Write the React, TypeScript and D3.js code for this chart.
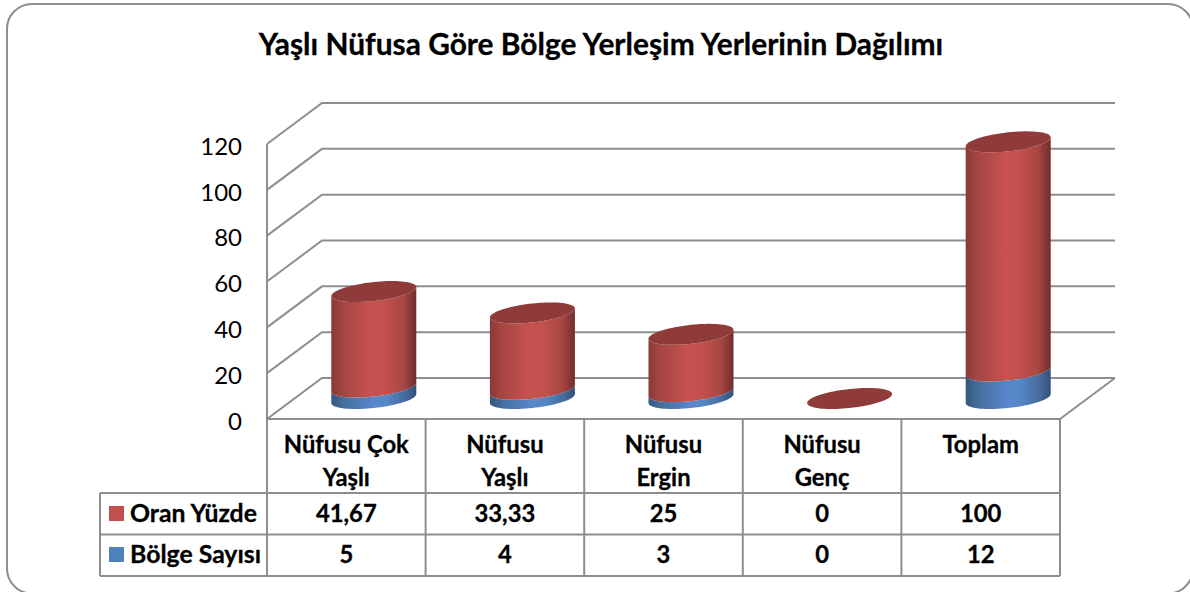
import React, { useEffect, useRef } from 'react';
import * as d3 from 'd3';

const chartTitle = 'Yaşlı Nüfusa Göre Bölge Yerleşim Yerlerinin Dağılımı';
const categories = [['Nüfusu Çok', 'Yaşlı'], ['Nüfusu', 'Yaşlı'], ['Nüfusu', 'Ergin'], ['Nüfusu', 'Genç'], ['Toplam']];
const oranYuzde = [41.67, 33.33, 25, 0, 100];
const bolgeSayisi = [5, 4, 3, 0, 12];
const yTicks = [0, 20, 40, 60, 80, 100, 120];
const seriesNames = ['Oran Yüzde', 'Bölge Sayısı'];

const width = 1190;
const height = 592;
const fontFamily = 'Lato, "Open Sans", sans-serif';
const gridColor = '#8e8e8e';
const depthX = 55;
const depthY = -41;
const radiusX = 42.5;
const radiusY = 9.5;
const tilt = -4.5;

// floor front edge runs 267..1060, the chart's back wall is the same thing shifted by the depth
const xBand = d3.scaleBand<number>().domain(d3.range(categories.length)).range([267, 1060]);
const yFront = d3.scaleLinear().domain([0, 120]).range([419, 144]);

const angles = d3.range(0, Math.PI * 2, Math.PI / 40);
const ellipsePoint = (cx: number, cy: number, t: number): [number, number] => [
  cx + radiusX * Math.cos(t),
  cy + radiusY * Math.sin(t) + tilt * Math.cos(t),
];

function App() {
  const svgRef = useRef<SVGSVGElement>(null);

  useEffect(() => {
    const svg = d3.select(svgRef.current);
    svg.selectAll('*').remove();

    const defs = svg.append('defs');
    const addGradient = (id: string, stops: [number, string][]) => {
      const g = defs.append('linearGradient').attr('id', id).attr('x1', 0).attr('x2', 1).attr('y1', 0).attr('y2', 0);
      stops.forEach(([o, c]) => g.append('stop').attr('offset', o).attr('stop-color', c));
    };
    addGradient('redBody', [[0, '#8a3937'], [0.12, '#a34441'], [0.45, '#c5524f'], [0.62, '#c4514e'], [0.85, '#a84643'], [1, '#6f2e2c']]);
    addGradient('blueBody', [[0, '#35567f'], [0.15, '#456f9f'], [0.5, '#5888cc'], [0.65, '#5587c6'], [0.88, '#44699a'], [1, '#31507a']]);

    // the frame runs a little past the right and bottom edge of the picture
    svg.append('rect')
      .attr('x', 7).attr('y', 4).attr('width', 1186).attr('height', 589.5).attr('rx', 25)
      .attr('fill', '#fff').attr('stroke', gridColor).attr('stroke-width', 2);

    svg.append('text')
      .attr('x', 601).attr('y', 55).attr('text-anchor', 'middle')
      .attr('font-family', fontFamily).attr('font-weight', 700).attr('font-size', 29.9)
      .attr('stroke', '#000').attr('stroke-width', 0.3)
      .text(chartTitle);

    // walls and gridlines
    const left = xBand.range()[0];
    const right = xBand.range()[1];
    const grid = svg.append('g').attr('fill', 'none').attr('stroke', gridColor).attr('stroke-width', 2);
    yTicks.forEach((t) => {
      const y = yFront(t);
      grid.append('path').attr('d', d3.line()([[left, y], [left + depthX, y + depthY], [right + depthX, y + depthY]]));
    });
    grid.append('line').attr('x1', left).attr('x2', left).attr('y1', yFront(120)).attr('y2', yFront(0));
    grid.append('path').attr('d', d3.line()([[left, yFront(0)], [right, yFront(0)], [right + depthX, yFront(0) + depthY]]));

    // y axis labels
    const axis = d3.axisLeft(yFront).tickValues(yTicks).tickSize(0).tickPadding(25);
    const axisG = svg.append('g').attr('transform', `translate(${left},2.5)`).call(axis);
    axisG.select('.domain').remove();
    axisG.selectAll('text').attr('font-family', fontFamily).attr('font-size', 24).attr('fill', '#000');

    // cylinders
    const closed = d3.line().curve(d3.curveLinearClosed);
    const yBase = yFront(0) + depthY / 2;
    const segment = (cx: number, yLow: number, yHigh: number) => {
      const lowArc = angles.filter((t) => t <= Math.PI).map((t) => ellipsePoint(cx, yLow, t));
      const highArc = angles.filter((t) => t <= Math.PI).map((t) => ellipsePoint(cx, yHigh, t)).reverse();
      return closed([...lowArc, ellipsePoint(cx, yLow, Math.PI), ellipsePoint(cx, yHigh, Math.PI), ...highArc]);
    };
    const scaleH = (v: number) => yFront(0) - yFront(v);
    categories.forEach((_, i) => {
      const cx = (xBand(i) as number) + xBand.bandwidth() / 2 + depthX / 2;
      const yBlue = yBase - scaleH(bolgeSayisi[i]);
      const yTop = yBase - scaleH(bolgeSayisi[i] + oranYuzde[i]);
      const g = svg.append('g');
      if (bolgeSayisi[i] > 0) g.append('path').attr('d', segment(cx, yBase, yBlue)).attr('fill', 'url(#blueBody)');
      if (oranYuzde[i] > 0) g.append('path').attr('d', segment(cx, yBlue, yTop)).attr('fill', 'url(#redBody)');
      g.append('path').attr('d', closed(angles.map((t) => ellipsePoint(cx, yTop, t)))).attr('fill', '#8e3b39');
    });

    // data table
    const rowTop = 419;
    const rows = [493, 534.5, 576];
    const tableLeft = 100;
    const table = svg.append('g').attr('stroke', gridColor).attr('stroke-width', 2);
    xBand.domain().concat(categories.length).forEach((i) => {
      const x = left + i * xBand.bandwidth();
      table.append('line').attr('x1', x).attr('x2', x).attr('y1', rowTop).attr('y2', rows[2]);
    });
    rows.forEach((y) => {
      table.append('line').attr('x1', tableLeft).attr('x2', right).attr('y1', y).attr('y2', y);
    });
    table.append('line').attr('x1', tableLeft).attr('x2', tableLeft).attr('y1', rows[0]).attr('y2', rows[2]);

    const tableText = svg.append('g')
      .attr('font-family', fontFamily).attr('font-weight', 700).attr('font-size', 23.8).attr('fill', '#000')
      .attr('stroke', '#000').attr('stroke-width', 0.3);
    const fmt = (v: number) => String(v).replace('.', ',');
    categories.forEach((lines, i) => {
      const cx = (xBand(i) as number) + xBand.bandwidth() / 2;
      lines.forEach((l, j) => {
        tableText.append('text').attr('x', cx).attr('y', 453 + j * 33).attr('text-anchor', 'middle').text(l);
      });
      tableText.append('text').attr('x', cx).attr('y', 522).attr('text-anchor', 'middle').text(fmt(oranYuzde[i]));
      tableText.append('text').attr('x', cx).attr('y', 563).attr('text-anchor', 'middle').text(fmt(bolgeSayisi[i]));
    });
    seriesNames.forEach((name, i) => {
      const y = i === 0 ? 522 : 563;
      svg.append('rect').attr('x', 109).attr('y', y - 16).attr('width', 15).attr('height', 15)
        .attr('fill', i === 0 ? '#c0504d' : '#4f81bd');
      tableText.append('text').attr('x', 130).attr('y', y).attr('font-size', 24.8).text(name);
    });
  }, []);

  return (
    <svg
      ref={svgRef}
      width={width}
      height={height}
      viewBox={`0 0 ${width} ${height}`}
      style={{ position: 'absolute', left: 0, top: 0, display: 'block' }}
    />
  );
}

export default App;
